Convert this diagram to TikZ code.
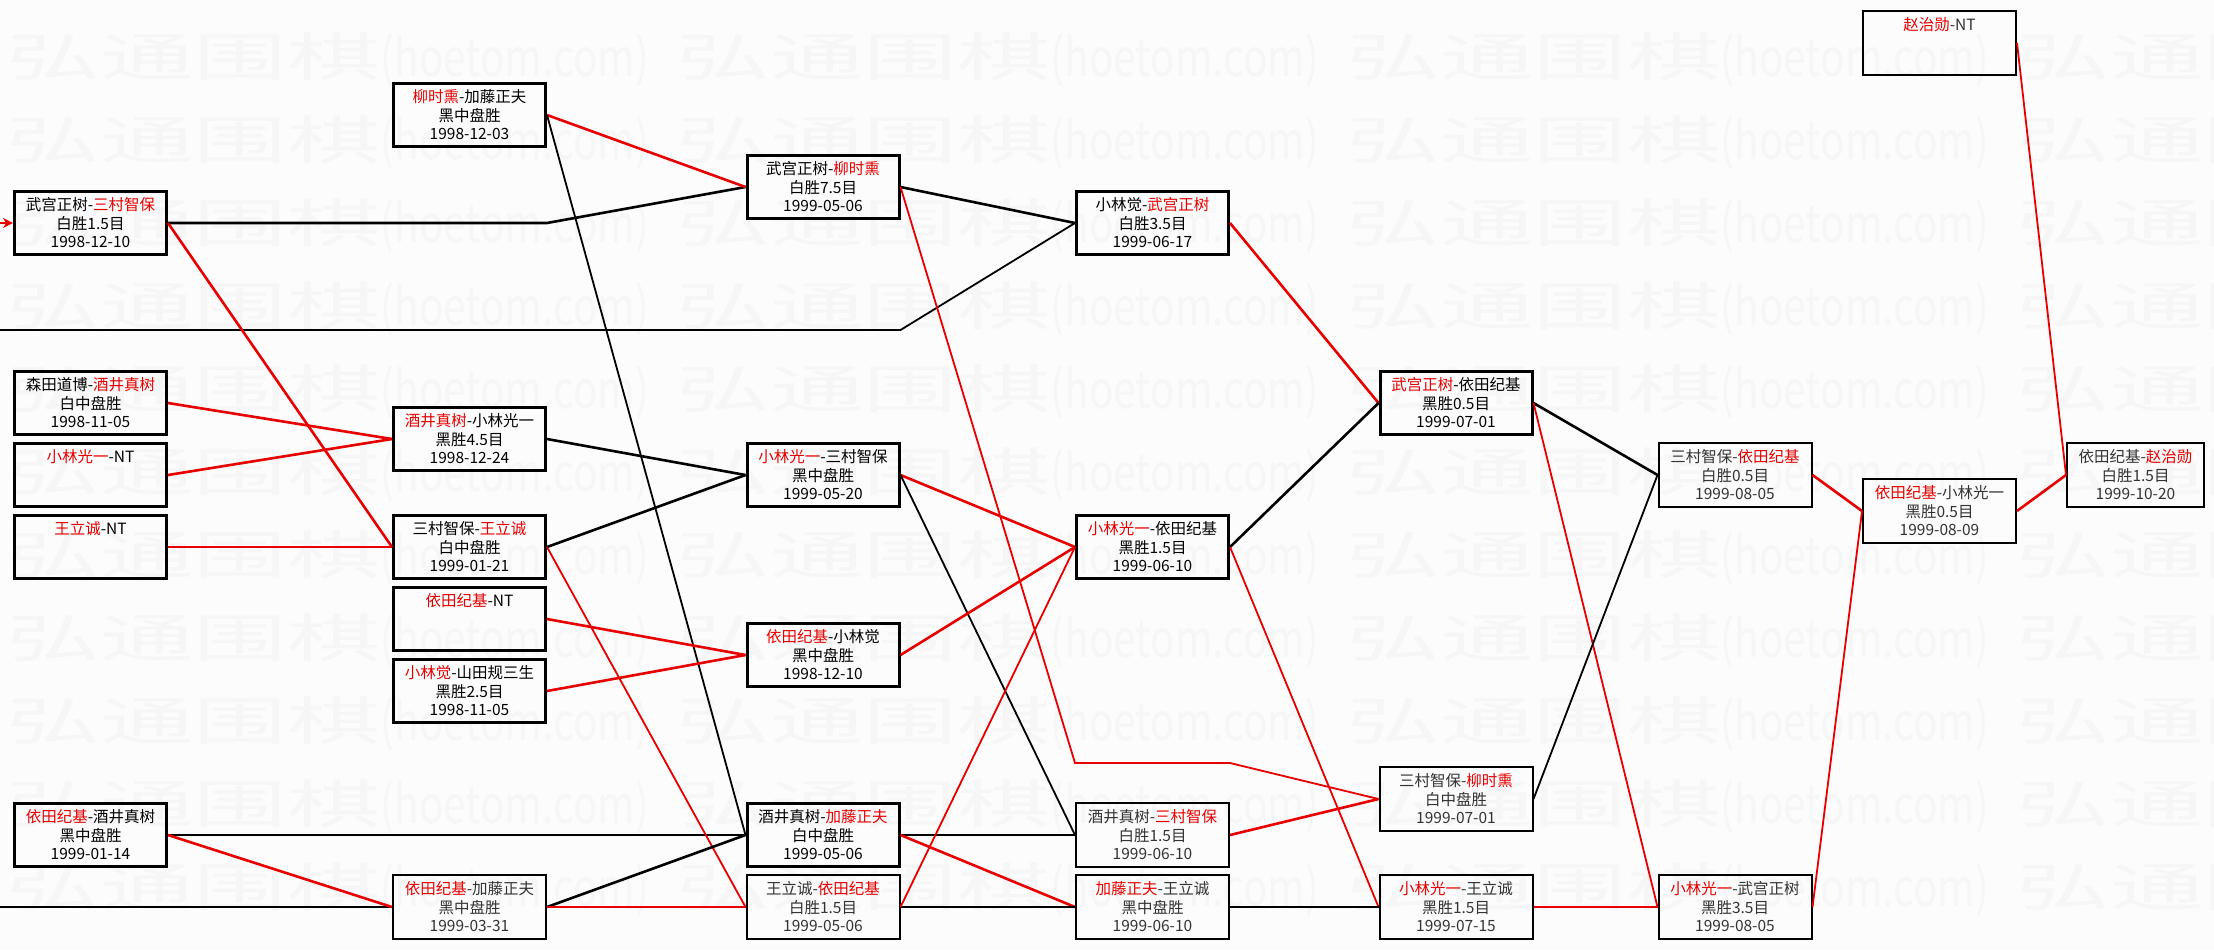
\documentclass[tikz,border=0pt]{standalone}
\usepackage{fontspec}
\setmainfont{Noto Sans CJK SC}
\usepackage{tikz}
\usetikzlibrary{positioning,arrows.meta,calc}
\definecolor{winred}{RGB}{232,0,0}
\newcommand{\gamefont}{\fontsize{7.75pt}{9.25pt}\selectfont}
\newcommand{\rname}[1]{\textcolor{winred}{#1}}
\tikzset{
  box/.style={draw,line width=1.5pt,align=center,inner sep=0pt,
    minimum width=76pt,minimum height=31.5pt,font=\gamefont},
  softbox/.style={box,line width=1pt,minimum width=76.5pt,minimum height=32pt,text=black!80},
  won/.style={draw=winred,line width=1.3pt},
  lost/.style={draw=black,line width=1.3pt},
  slim/.style={line width=0.9pt},
  wmark/.style={text=black!3.5,font=\fontsize{26pt}{26pt}\selectfont,inner sep=0pt,anchor=west},
}

\begin{document}
\begin{tikzpicture}[x=0.5pt,y=-0.5pt,>={Stealth[length=5pt,width=5pt]},node distance=3pt]
  \fill[white!99!black] (0,0) rectangle (2214,949);
  \useasboundingbox (0,0) rectangle (2214,949);
  % watermark
  \foreach \r in {0,...,10}{
    \foreach \c in {0,...,3}{
      \node[wmark] (wm-\r-\c) at (6+670*\c,60+83*\r)
        {\scalebox{1.8}[1]{弘通围棋}\scalebox{0.78}[1]{(hoetom.com)}};
    }
  }
  % first round
  \node[box] (a1) at (90.5,223) {武宫正树-\rname{三村智保}\\白胜1.5目\\1998-12-10};
  \node[box] (a2) at (90.5,403) {森田道博-\rname{酒井真树}\\白中盘胜\\1998-11-05};
  \node[box,below=of a2] (a3) {\rname{小林光一}-NT\\\phantom{0}\\\phantom{0}};
  \node[box,below=of a3] (a4) {\rname{王立诚}-NT\\\phantom{0}\\\phantom{0}};
  \node[box] (a5) at (90.5,835) {\rname{依田纪基}-酒井真树\\黑中盘胜\\1999-01-14};
  % second round
  \node[box] (b1) at (469.5,115) {\rname{柳时熏}-加藤正夫\\黑中盘胜\\1998-12-03};
  \node[box] (b2) at (469.5,439) {\rname{酒井真树}-小林光一\\黑胜4.5目\\1998-12-24};
  \node[box] (b3) at (469.5,547) {三村智保-\rname{王立诚}\\白中盘胜\\1999-01-21};
  \node[box,below=of b3] (b4) {\rname{依田纪基}-NT\\\phantom{0}\\\phantom{0}};
  \node[box,below=of b4] (b5) {\rname{小林觉}-山田规三生\\黑胜2.5目\\1998-11-05};
  \node[softbox] (b6) at (469.5,907) {\rname{依田纪基}-加藤正夫\\黑中盘胜\\1999-03-31};
  % third round
  \node[box] (c1) at (823,187) {武宫正树-\rname{柳时熏}\\白胜7.5目\\1999-05-06};
  \node[box] (c2) at (823,475) {\rname{小林光一}-三村智保\\黑中盘胜\\1999-05-20};
  \node[box] (c3) at (823,655) {\rname{依田纪基}-小林觉\\黑中盘胜\\1998-12-10};
  \node[box] (c4) at (823,835) {酒井真树-\rname{加藤正夫}\\白中盘胜\\1999-05-06};
  \node[softbox,below=of c4] (c5) {王立诚-\rname{依田纪基}\\白胜1.5目\\1999-05-06};
  % fourth round
  \node[box] (d1) at (1152.5,223) {小林觉-\rname{武宫正树}\\白胜3.5目\\1999-06-17};
  \node[box] (d2) at (1152.5,547) {\rname{小林光一}-依田纪基\\黑胜1.5目\\1999-06-10};
  \node[softbox] (d3) at (1152.5,835) {酒井真树-\rname{三村智保}\\白胜1.5目\\1999-06-10};
  \node[softbox,below=of d3] (d4) {\rname{加藤正夫}-王立诚\\黑中盘胜\\1999-06-10};
  % fifth round
  \node[box] (e0) at (1456,403) {\rname{武宫正树}-依田纪基\\黑胜0.5目\\1999-07-01};
  \node[softbox] (e1) at (1456,799) {三村智保-\rname{柳时熏}\\白中盘胜\\1999-07-01};
  \node[softbox] (e2) at (1456,907) {\rname{小林光一}-王立诚\\黑胜1.5目\\1999-07-15};
  % sixth round
  \node[softbox] (f0) at (1735,475) {三村智保-\rname{依田纪基}\\白胜0.5目\\1999-08-05};
  \node[softbox] (f1) at (1735,907) {\rname{小林光一}-武宫正树\\黑胜3.5目\\1999-08-05};
  % final
  \node[softbox] (g0) at (1939.5,43) {\rname{赵治勋}-NT\\\phantom{0}\\\phantom{0}};
  \node[softbox] (g1) at (1939.5,511) {\rname{依田纪基}-小林光一\\黑胜0.5目\\1999-08-09};
  \node[softbox,minimum width=68.5pt] (h1) at (2135.5,475) {依田纪基-\rname{赵治勋}\\白胜1.5目\\1999-10-20};
  % free ends at the left border
  \coordinate (inA) at (0,223);
  \coordinate (inB) at (0,330);
  \coordinate (inC) at (0,907);
  \coordinate (via) at (1075,763);
  \draw[won,->] (inA) -- (a1.west);
  \draw[lost,slim] (inB) -- (inB -| c1.east) -- (d1.west);
  \draw[lost,slim] (inC) -- (b6.west);
  % from the first round
  \draw[lost] (a1.east) -- (a1.east -| b1.east) -- (c1.west);
  \draw[won] (a1.east) -- (b3.west);
  \draw[won] (a2.east) -- (b2.west);
  \draw[won] (a3.east) -- (b2.west);
  \draw[won] (a4.east) -- (b3.west);
  \draw[lost] (a5.east) -- (c4.west);
  \draw[won] (a5.east) -- (b6.west);
  % from the second round
  \draw[won] (b1.east) -- (c1.west);
  \draw[lost,slim] (b1.east) -- (c4.west);
  \draw[lost] (b2.east) -- (c2.west);
  \draw[lost] (b3.east) -- (c2.west);
  \draw[won,slim] (b3.east) -- (c5.west);
  \draw[won] (b4.east) -- (c3.west);
  \draw[won] (b5.east) -- (c3.west);
  \draw[lost] (b6.east) -- (c4.west);
  \draw[won] (b6.east) -- (c5.west);
  % from the third round
  \draw[lost] (c1.east) -- (d1.west);
  \draw[won,slim] (c1.east) -- (via) -- (via -| d3.east) -- (e1.west);
  \draw[won] (c2.east) -- (d2.west);
  \draw[lost,slim] (c2.east) -- (d3.west);
  \draw[won] (c3.east) -- (d2.west);
  \draw[lost] (c4.east) -- (d3.west);
  \draw[won] (c4.east) -- (d4.west);
  \draw[lost,slim] (c5.east) -- (d4.west);
  \draw[won,slim] (c5.east) -- (d2.west);
  % from the fourth round
  \draw[won] (d1.east) -- (e0.west);
  \draw[lost] (d2.east) -- (e0.west);
  \draw[won,slim] (d2.east) -- (e2.west);
  \draw[won] (d3.east) -- (e1.west);
  \draw[lost,slim] (d4.east) -- (e2.west);
  % later rounds
  \draw[lost] (e0.east) -- (f0.west);
  \draw[won,slim] (e0.east) -- (f1.west);
  \draw[lost,slim] (e1.east) -- (f0.west);
  \draw[won] (e2.east) -- (f1.west);
  \draw[won] (f0.east) -- (g1.west);
  \draw[won,slim] (f1.east) -- (g1.west);
  \draw[won] (g1.east) -- (h1.west);
  \draw[won,slim] (g0.east) -- (h1.west);
\end{tikzpicture}
\end{document}
